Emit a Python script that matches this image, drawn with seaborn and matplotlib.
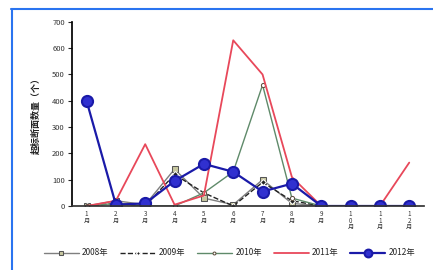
import matplotlib
matplotlib.use("Agg")
import matplotlib.pyplot as plt
import seaborn as sns
import pandas as pd
from matplotlib.lines import Line2D

months = ["1月", "2月", "3月", "4月", "5月", "6月", "7月", "8月", "9月", "10月", "11月", "12月"]
y2008 = [0, 20, 5, 140, 30, 5, 100, 10, 0, 0, 0, 0]
y2009 = [0, 10, 0, 120, 50, 0, 90, 20, 0, 0, 0, 0]
y2010 = [0, 10, 0, 0, 50, 130, 460, 30, 0, 0, 0, 0]
y2011 = [0, 20, 235, 5, 40, 630, 500, 110, 0, 0, 0, 165]
y2012 = [400, 5, 10, 95, 160, 130, 55, 85, 0, 0, 0, 0]
series_names = ["2008年", "2009年", "2010年", "2011年", "2012年"]
yticks = [0, 100, 200, 300, 400, 500, 600, 700]
ylabel = "超标断面数量（个）"

sns.set_theme(style="white")
plt.rcParams["font.family"] = ["Noto Sans CJK SC", "DejaVu Sans"]

rows = []
for name, vals in zip(series_names, [y2008, y2009, y2010, y2011, y2012]):
    for i, v in enumerate(vals):
        rows.append({"idx": i, "value": v, "year": name})
df = pd.DataFrame(rows)

fig = plt.figure(figsize=(4.33, 2.70), dpi=100)
ax = fig.add_axes([0.166, 0.237, 0.813, 0.682])

styles = {
    "2008年": dict(color="#7f7f7f", marker="s", markersize=5, linestyle="-", linewidth=1.0,
                   markerfacecolor="#c8c8a0", markeredgecolor="#555555"),
    "2009年": dict(color="#222222", marker="D", markersize=3, linestyle="--", linewidth=1.0),
    "2010年": dict(color="#5f8a6a", marker="o", markersize=3, linestyle="-", linewidth=1.0,
                   markerfacecolor="white", markeredgecolor="#5f5040"),
    "2011年": dict(color="#e8485a", marker=None, linestyle="-", linewidth=1.3),
    "2012年": dict(color="#1a1aa8", marker="o", markersize=8, linestyle="-", linewidth=1.6,
                   markerfacecolor="#3030d0", markeredgecolor="#1a1aa8", markeredgewidth=1.5),
}

for name in series_names:
    sub = df[df["year"] == name]
    st = styles[name]
    sns.lineplot(data=sub, x="idx", y="value", ax=ax, label=name, **st)

ax.set_xlim(-0.5, 11.5)
ax.set_ylim(0, 700)
ax.set_yticks(yticks)
ax.set_yticklabels([str(t) for t in yticks], fontsize=5.5, color="#333333")
ax.set_xticks(range(len(months)))
ax.set_xticklabels(["\n".join(list(m)) for m in months], fontsize=4.5, color="#333333",
                   linespacing=0.75)
ax.set_xlabel("")
ax.set_ylabel(ylabel, fontsize=6.5, color="#222222", fontweight="bold", labelpad=8)
for s in ["top", "right"]:
    ax.spines[s].set_visible(False)
ax.spines["left"].set_color("#000000")
ax.spines["bottom"].set_color("#333333")
ax.tick_params(axis="y", direction="out", length=3, width=0.8, left=True, pad=2)
ax.tick_params(axis="x", length=0, pad=3)

handles, labels = ax.get_legend_handles_labels()
ax.get_legend().remove()
fig.legend(handles, labels, loc="center", bbox_to_anchor=(0.53, 0.063), ncol=5,
           frameon=False, fontsize=6, handlelength=4.2, columnspacing=1.4, handletextpad=0.4,
           markerscale=0.7)

fig.add_artist(Line2D([0.025, 1.0], [0.967, 0.967], color="#2a74f0", linewidth=1.5))
fig.add_artist(Line2D([0.028, 0.028], [0.0, 0.967], color="#2a74f0", linewidth=1.5))

fig.savefig("out.png", dpi=100)
